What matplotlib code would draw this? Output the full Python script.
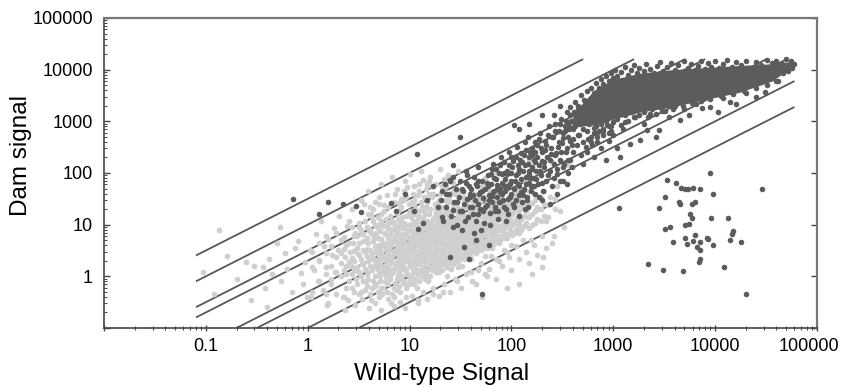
import matplotlib
matplotlib.use("Agg")
import matplotlib.pyplot as plt
import matplotlib.transforms as mtrans
import numpy as np
from matplotlib.ticker import FixedLocator, FixedFormatter, LogLocator, NullFormatter

plt.rcParams['font.family'] = ['Liberation Sans', 'DejaVu Sans']

# guide lines y = k * x, clipped to the drawn range
fold_k = [31.6, 10, 3.16, 2, 0.5, 0.316, 0.1, 0.0316]
line_xmin, line_xmax = 0.08, 60000
line_ymin, line_ymax = 0.1, 16000

# light gray points (low signal probes), scattered part
light_pts = [
    (0.093, 1.2), (0.135, 7.8), (0.12, 0.45), (0.16, 2.5), (0.2, 0.9), (0.25, 1.9), (0.28, 0.35),
    (0.3, 1.6), (0.36, 1.5), (0.38, 0.6), (0.4, 0.25), (0.42, 2.2), (0.45, 1.1), (0.5, 4.5),
    (0.54, 9.0), (0.55, 0.8), (0.6, 2.8), (0.62, 1.4), (0.7, 0.5), (0.75, 3.5), (0.81, 4.9),
    (0.85, 1.14), (0.9, 0.7), (0.95, 1.9), (0.99, 0.4),
    (1.05, 3.2), (1.07, 0.4), (1.15, 1.3), (1.2, 6.5), (1.25, 0.8), (1.3, 2.1), (1.35, 12),
    (1.4, 0.55), (1.45, 3.8), (1.5, 1.5), (1.55, 0.28), (1.6, 5.2), (1.7, 0.9), (1.75, 2.6),
    (1.8, 8.5), (1.85, 1.2), (1.9, 0.45), (2.0, 3.3), (2.05, 15), (2.1, 1.8), (2.2, 0.4),
    (2.25, 5.8), (2.3, 2.4), (2.4, 1.1), (2.45, 9.5), (2.5, 0.35), (2.6, 3.0), (2.65, 1.6),
    (2.7, 20), (2.75, 0.6), (2.8, 4.4), (2.85, 2.0), (2.9, 7), (2.95, 1.3), (3.0, 0.9),
    (3.1, 2.7), (3.2, 11), (3.3, 0.5), (3.4, 1.7), (3.5, 4.8), (3.6, 25), (3.7, 0.8),
    (3.8, 3.4), (3.9, 1.2), (4.0, 7.5), (4.1, 2.2), (4.2, 0.35), (4.3, 14), (4.4, 1.5),
    (4.5, 5.5), (4.6, 0.65), (4.7, 3.0), (4.8, 9), (4.9, 1.9), (5.0, 35), (5.1, 1.0),
    (5.3, 4.0), (5.4, 0.45), (5.5, 2.5), (5.6, 18), (5.8, 6.5), (5.9, 1.4), (6.0, 0.75),
    (6.2, 3.6), (6.3, 11), (6.5, 2.0), (6.6, 0.3), (6.8, 5.0), (6.9, 1.2), (7.0, 28),
    (7.2, 8), (7.3, 2.8), (7.5, 0.55), (7.6, 4.4), (7.8, 1.6), (8.0, 13), (8.1, 0.9),
    (8.3, 3.2), (8.5, 6), (8.6, 2.1), (8.8, 45), (9.0, 1.3), (9.1, 9.5), (9.3, 0.4),
    (9.5, 4.2), (9.6, 2.5), (9.8, 16), (9.9, 0.7), (3.4, 6.5), (4.4, 20), (5.2, 12),
    (6.1, 8.8), (7.0, 0.4), (8.2, 22), (9.4, 3.5), (9.5, 54), (13.7, 72),
    (10.3, 5.2), (10.6, 1.5), (11, 25), (11.3, 3.0), (11.7, 0.6), (12, 9), (12.4, 2.0),
    (12.8, 14), (13.2, 4.5), (13.6, 1.1), (14, 35), (14.4, 6.5), (14.8, 2.6), (15.2, 0.8),
    (15.7, 11), (16.2, 3.8), (16.7, 55), (17.2, 1.7), (17.7, 7.5), (18.2, 20), (18.8, 3.0),
    (19.4, 1.2), (20, 12), (20.6, 5), (21.2, 0.5), (21.8, 30), (22.5, 2.3), (23.2, 8.5),
    (24, 16), (24.8, 4), (25.6, 1.4), (26.4, 45), (27.2, 6), (28, 2.8), (28.9, 22),
    (29.8, 10), (10.8, 40), (12.2, 0.35), (13.9, 18), (15.5, 70), (17, 0.45), (18.5, 13),
    (19.8, 2.2), (21, 8), (22, 75), (23.5, 1.0), (25, 28), (26, 12), (27.5, 3.8),
    (29, 0.8), (11.5, 7), (14.2, 2.1), (16.5, 4.7), (19, 9.5), (24.5, 6.5),
    (31, 4.2), (32, 15), (33, 1.6), (34, 32), (35, 7), (36, 3.0), (37, 60), (38, 11),
    (40, 2.2), (41, 20), (43, 5.5), (44, 40), (46, 9), (47, 1.3), (49, 28), (51, 14),
    (53, 3.5), (55, 80), (57, 7), (59, 18), (61, 45), (63, 2.5), (65, 10), (68, 30),
    (70, 5), (73, 100), (76, 15), (79, 40), (82, 8), (85, 22), (88, 60), (92, 12),
    (96, 35), (99, 4), (45, 0.7), (58, 1.0), (75, 2.0), (90, 3), (52, 0.4), (66, 120),
    (105, 18), (110, 45), (118, 9), (125, 28), (135, 70), (145, 14), (155, 5), (165, 40),
    (180, 22), (195, 90), (205, 2.4), (220, 12), (240, 35), (260, 6), (280, 55), (300, 18),
    (330, 9), (360, 140), (250, 160), (150, 180),
    # upper edge of the cloud
    (3.3, 30), (3.9, 45), (4.6, 28), (5.3, 60), (6.0, 38), (6.7, 85), (7.5, 50), (8.3, 32),
    (9.0, 70), (10, 95), (11, 55), (12, 38), (13, 110), (14.5, 50), (16, 85), (18, 60),
    (20, 120), (22, 48), (24, 90), (27, 65), (30, 110), (4.2, 16), (5.6, 24), (7.8, 26),
    (10.5, 28), (12.5, 60), (15.5, 40), (19, 28), (23, 55), (28, 40),
    # lower edge of the cloud
    (1.6, 0.3), (2.3, 0.22), (2.9, 0.28), (3.4, 0.36), (4.0, 0.24), (4.6, 0.3), (5.3, 0.22),
    (6.1, 0.36), (7.0, 0.27), (8.0, 0.32), (9.1, 0.24), (10.5, 0.42), (12, 0.3), (13.5, 0.5),
    (15, 0.36), (17, 0.6), (19.5, 0.42), (22, 0.7), (25, 0.5), (28, 0.9), (32, 0.6),
    (36, 1.1), (41, 0.8), (47, 1.4), (55, 1.1),
    # right, below the dark points
    (30, 1.5), (35, 2.2), (40, 1.2), (45, 3), (50, 1.8), (55, 2.5), (60, 1.4), (65, 3.5),
    (70, 2.2), (75, 4.5), (80, 1.6), (85, 3.2), (90, 5.5), (95, 2.4), (100, 1.3), (110, 3.8),
    (120, 2.2), (130, 5), (140, 3), (150, 1.8), (165, 4), (180, 2.6), (200, 6), (220, 3.5),
    (250, 4.5), (120, 0.7), (160, 1.1), (90, 0.6), (70, 0.9), (200, 1.5),
]

# light gray points, dense part of the cloud: (wild-type value, [dam values])
light_cloud_cols = [
    (1.1, [0.5, 1.5, 3]), (1.3, [0.8, 2, 4.5]), (1.5, [0.45, 1.1, 2.8, 6]),
    (1.7, [0.7, 1.6, 3.8]), (1.9, [1.2, 2.4, 7]),
    (2.1, [1.0, 2.8, 5]), (2.25, [0.4, 1.3, 3.4]), (2.4, [0.6, 1.6, 4]),
    (2.55, [0.8, 1.9, 4.5, 12]), (2.7, [1.1, 2.3, 9]), (2.85, [0.5, 1.4, 3.1, 6]),
    (3.05, [0.7, 1.5, 3.6, 6]), (3.2, [0.45, 1.2, 2.6, 4.5, 9]), (3.35, [1.0, 2.2, 8]),
    (3.5, [0.8, 1.7, 3.3, 6.5]), (3.65, [0.55, 1.4, 3.0, 12]), (3.8, [0.65, 1.1, 2.5, 5.5, 9]),
    (3.95, [0.9, 2.0, 4.5, 16]), (4.1, [0.45, 1.6, 3.3, 8, 22]), (4.25, [0.6, 1.3, 2.8, 6.5]),
    (4.4, [0.8, 2.3, 4.8, 12]), (4.55, [1.0, 2.0, 3.8, 10]), (4.7, [0.7, 1.7, 3.2, 7]),
    (4.85, [0.5, 1.4, 2.7, 5.5, 14]), (5.0, [0.4, 1.1, 2.2, 4.1, 10, 25]),
    (5.15, [0.8, 1.8, 3.4, 7.5]), (5.3, [0.6, 1.5, 2.8, 5.2, 16]),
    (5.5, [0.6, 1.2, 2.3, 4.5, 9.5]), (5.7, [0.8, 1.6, 3.8, 7]), (5.85, [1.0, 2.0, 3.2, 13]),
    (6.0, [0.5, 1.2, 2.3, 4.4, 10]), (6.2, [0.7, 1.5, 2.6, 5.5, 22]),
    (6.4, [0.9, 1.8, 3.3, 6.5, 15]), (6.6, [1.1, 2.2, 4.0, 8]),
    (6.8, [0.45, 1.3, 2.5, 4.6, 12]), (7.0, [0.6, 1.4, 2.9, 5, 11]),
    (7.2, [0.75, 1.7, 3.2, 6, 9.5, 40]), (7.45, [0.9, 1.9, 3.6, 7, 17]),
    (7.7, [1.0, 2.2, 4.2, 8, 13]), (7.9, [0.65, 1.2, 2.5, 4.8, 9]),
    (8.1, [0.5, 1.4, 2.9, 5.6, 11, 20]), (8.4, [1.0, 1.8, 3.5, 6.5, 14]),
    (8.6, [0.8, 2.4, 4.4, 8.5]), (8.9, [0.75, 1.5, 2.7, 5, 11, 30]),
    (9.2, [0.6, 1.3, 2.4, 4.2, 6.5, 15, 35]), (9.45, [1.1, 2.0, 3.0, 7.5]),
    (9.8, [0.9, 1.9, 3.5, 5.5, 10, 25]), (10.1, [0.8, 1.6, 2.9, 4.5, 8, 18]),
    (10.4, [1.0, 2.0, 3.3, 5.8, 9.5, 14]), (10.7, [1.2, 2.3, 3.8, 6.5, 12]),
    (11.0, [0.7, 1.5, 2.7, 4.6, 7.5, 16, 30]), (11.4, [0.9, 1.8, 3.3, 5.5, 10, 20]),
    (11.7, [1.1, 2.2, 4.0, 6.5, 12]), (12.1, [1.3, 2.6, 4.2, 7, 15]),
    (12.5, [0.8, 1.7, 3.0, 5, 8, 18, 45]), (12.9, [1.0, 2.0, 3.5, 6, 9.5, 28]),
    (13.3, [1.2, 2.4, 4.2, 7, 11, 22]), (13.7, [1.5, 2.8, 5, 8.5, 13]),
    (14.1, [0.9, 1.9, 3.2, 5.5, 9, 16]), (14.6, [1.1, 2.2, 3.6, 6.5, 11, 22]),
    (15.0, [1.3, 2.6, 4.5, 7, 12, 28, 60]), (15.5, [1.6, 3.0, 5, 8, 16]),
    (16.0, [1.0, 2.0, 3.5, 5.8, 9.5, 20]), (16.5, [1.3, 2.4, 4.2, 6.5, 10, 35]),
    (17.0, [1.5, 2.8, 4.8, 8, 13, 40]), (17.6, [1.9, 3.2, 5.5, 9, 14, 25]),
    (18.1, [1.2, 2.3, 3.8, 6.5, 10, 17]), (18.7, [1.5, 2.6, 4.5, 7.5, 12]),
    (19.3, [1.6, 3.0, 5.2, 8.5, 15, 30]), (20, [2.0, 3.4, 6, 9, 18, 40]),
    (20.6, [1.3, 2.5, 4.2, 6.8, 11, 22, 55]), (21.3, [1.7, 2.9, 4.8, 7.5, 13]),
    (22.0, [1.8, 3.2, 5.5, 9, 16]), (22.7, [2.2, 3.8, 6, 10, 20]),
    (23.4, [1.5, 2.6, 4.4, 7, 12, 28]), (24.2, [1.8, 3.0, 5, 8.5, 14, 35]),
    (25.0, [2.0, 3.6, 6, 10, 16, 40]), (25.8, [2.5, 4.2, 7, 11, 18]),
    (26.6, [1.7, 3.0, 5, 8, 13, 22]), (27.5, [2.0, 3.4, 5.5, 9, 25]),
    (28.4, [2.3, 4, 6.5, 11, 18]), (29.3, [2.8, 4.8, 7.5, 13, 20]),
    (30.2, [1.9, 3.3, 5.5, 9, 15, 30]), (31.2, [2.3, 3.8, 6, 10, 16, 45]),
    (32.2, [2.6, 4.5, 7, 12, 20]), (33.3, [3.2, 5.2, 8.5, 14]),
    (34.4, [2.2, 3.6, 6, 10, 16, 35]), (35.5, [2.6, 4.4, 7, 12, 22]),
    (36.7, [3.0, 5, 8, 13, 24]), (37.9, [3.5, 5.8, 9, 15, 30]), (39.1, [2.5, 4.2, 7, 11, 18]),
    (40.4, [2.9, 4.8, 8, 13]), (41.7, [3.4, 5.6, 9, 15, 28]), (43, [3.8, 6.5, 10, 18, 40]),
    (44.5, [2.8, 4.6, 7.5, 12, 20]), (46, [3.2, 5.4, 8.5, 14]), (47.5, [3.8, 6.2, 10, 16, 32]),
    (49, [4.2, 7, 11, 20]), (50.5, [3.2, 5.2, 8.5, 14]), (52, [3.6, 6, 9.5, 16, 55]),
    (54, [4.2, 7, 11, 19, 35]), (56, [4.8, 8, 13, 24]), (58, [3.6, 6, 9.5, 15, 26]),
    (60, [4.0, 6.5, 10.5, 18]), (62, [4.8, 8, 13, 22]), (64, [5.5, 9, 15, 30]),
    (66, [4.2, 7, 11, 18]), (68, [4.5, 7.5, 12, 22]), (70.5, [5.5, 9, 15, 28]),
    (73, [6, 10, 17, 40]), (75.5, [4.8, 8, 13, 22]), (78, [5, 8.5, 14]), (81, [6.2, 10, 17, 32]),
    (84, [7, 12, 20, 50]), (87, [5.5, 9, 15, 25]), (90, [6, 10, 16, 28]),
    (94, [7, 11.5, 19, 35]), (97, [8, 13, 24]), (101, [6.2, 10, 16, 28]),
    (105, [7, 11, 19, 35]), (110, [8, 13, 22, 40]), (115, [9, 15, 26]), (120, [7, 11, 18, 32]),
    (125, [8, 13, 22, 45]), (132, [9.5, 15, 26]), (140, [11, 18, 30]), (150, [8.5, 14, 24, 45]),
    (160, [10, 16, 26]), (170, [11, 18, 30]), (180, [13, 20]), (195, [12, 20, 35]),
    (210, [15, 25, 45]), (230, [14, 24]), (270, [20, 32]),
]

# dark gray points (bound probes)
dark_pts = [
    (0.71, 31.5), (1.6, 27.5), (2.2, 25.6), (1.3, 16.4), (3.0, 22.7), (3.3, 17.6),
    (11.9, 231), (27, 142), (31.6, 500), (105, 843), (120, 700), (150, 900), (200, 1300),
    (6.5, 26), (7.3, 18), (9, 40), (11, 18), (13.7, 11), (12, 8.4), (15, 30), (17, 55),
    (19, 22), (21, 14), (23, 40), (25, 70), (27, 9), (29, 28), (31, 18), (33, 50),
    (35, 12), (37, 90), (39, 35), (41, 22), (43, 7), (45, 60), (47, 16), (49, 42),
    (25, 2.4), (38, 2.2), (34, 3.7), (52, 0.46), (45, 5), (60, 4),
    # diagonal dotted region
    (20.5, 30), (21.5, 12), (22.5, 60), (23, 22), (24.5, 40), (25.5, 15), (26.5, 85),
    (27.5, 28), (28.5, 50), (29.5, 10), (30.5, 35), (31.5, 70), (32.5, 18), (33.5, 45),
    (34.5, 25), (35.5, 110), (36.5, 32), (37.5, 14), (38.5, 55), (39.5, 22), (21, 45),
    (27, 19), (33, 8), (36, 65), (39, 40),
    (40.5, 48), (41.5, 16), (42.5, 85), (43.5, 30), (44.5, 12), (45.5, 55), (46.5, 25),
    (47.5, 130), (48.5, 40), (49.5, 20), (51, 70), (52.5, 33), (54, 11), (55.5, 48),
    (57, 24), (58.5, 90), (60, 38), (61.5, 17), (63, 60), (64.5, 28), (66, 150), (67.5, 45),
    (69, 22), (70.5, 75), (72, 35), (73.5, 13), (75, 100), (76.5, 52), (78, 27), (79.5, 200),
    (42, 38), (47, 70), (53, 18), (59, 55), (65, 36), (71, 120), (77, 42), (50, 8),
    (62, 10), (74, 18),
    (81, 65), (83, 30), (85, 160), (87, 45), (89, 20), (91, 95), (93, 55), (95, 250),
    (97, 35), (99, 70), (102, 130), (104, 25), (107, 48), (110, 90), (113, 320), (116, 60),
    (119, 38), (122, 180), (125, 75), (128, 28), (131, 110), (134, 50), (137, 400), (140, 85),
    (143, 35), (146, 150), (149, 65), (152, 260), (155, 45), (158, 120), (84, 100), (92, 16),
    (98, 200), (106, 22), (115, 140), (124, 42), (133, 220), (142, 30), (150, 95), (157, 55),
    (88, 12), (118, 15), (136, 20), (145, 500), (160, 300),
    (162, 80), (166, 180), (170, 40), (174, 110), (178, 350), (182, 60), (186, 140),
    (190, 600), (195, 90), (200, 250), (205, 45), (210, 160), (215, 420), (220, 70),
    (226, 200), (232, 800), (238, 110), (244, 300), (250, 55), (256, 500), (262, 150),
    (268, 900), (275, 240), (282, 95), (290, 650), (298, 180), (306, 1100), (315, 380),
    (324, 130), (333, 800), (343, 260), (353, 1500), (363, 500), (373, 180), (384, 1000),
    (395, 350), (170, 250), (200, 30), (240, 25), (280, 40), (320, 70), (360, 100),
    (260, 1300), (300, 2000), (350, 60),
    (52, 45), (55, 22), (57, 65), (60, 30), (63, 95), (66, 42), (69, 18), (72, 58), (75, 28),
    (78, 140), (81, 40), (84, 22), (87, 75), (90, 110), (93, 32), (96, 60), (100, 40),
    (104, 170), (108, 70), (112, 30), (116, 100), (120, 55), (125, 240), (130, 38),
    (135, 140), (140, 60), (145, 22), (150, 200), (155, 80), (160, 130), (165, 55),
    (170, 400), (175, 75), (180, 200), (185, 35), (190, 110), (195, 300), (200, 65),
    (210, 130), (220, 350), (230, 90), (240, 180), (250, 500), (260, 80), (270, 220),
    (280, 120), (290, 400), (300, 70), (310, 250), (320, 600), (330, 150), (340, 1000),
    (350, 300), (360, 180), (370, 700), (380, 420), (390, 130), (400, 250), (420, 800),
    (440, 350), (460, 550), (480, 220), (500, 700), (520, 1200), (540, 320), (560, 450),
    (580, 900), (600, 1500), (620, 350), (640, 600), (660, 1100), (680, 800), (700, 400),
    (730, 650), (760, 1800), (790, 550), (820, 1200), (860, 850), (900, 600), (950, 1500),
    (64, 120), (68, 80), (73, 48), (80, 95), (86, 55), (94, 140), (100, 100), (110, 200),
    (118, 120), (127, 160), (138, 280), (148, 110), (160, 220), (172, 160), (185, 450),
    (198, 170), (212, 280), (228, 550), (245, 230), (265, 650), (285, 320), (300, 900),
    (318, 480), (336, 650), (356, 850), (376, 1300), (398, 700), (410, 1500), (430, 1100),
    (455, 2000), (470, 900), (500, 1600), (530, 1900), (560, 2300), (590, 2700),
    # upper fringe of the saturated band
    (380, 1900), (420, 2400), (450, 1700), (480, 3200), (520, 2600), (550, 3800), (600, 4500),
    (640, 3600), (680, 5500), (720, 4400), (760, 6500), (800, 5200), (850, 7500), (900, 6000),
    (950, 8800), (1000, 6800), (1050, 10000), (1100, 7500), (1200, 9000), (1300, 11500),
    (1400, 8000), (1500, 10000), (1600, 12500), (1700, 8500), (1800, 11000), (2000, 9500),
    (2100, 13000), (2300, 10500), (2500, 8800), (2700, 12000), (2900, 14000), (3100, 9500),
    (3400, 11500), (3700, 13500), (4000, 10000), (4300, 12500), (4700, 9000), (5000, 14500),
    (5400, 11000), (5800, 13000), (6300, 9800), (6800, 12000), (7300, 15000), (7900, 10500),
    (8500, 13500), (9200, 11500), (10000, 14500), (11000, 10800), (12000, 13000),
    (13000, 15500), (14500, 11500), (16000, 14000), (18000, 12500), (20000, 15000),
    (22000, 11000), (25000, 14000), (28000, 12500), (32000, 15500), (36000, 13500),
    (40000, 15000), (45000, 13000), (50000, 16000), (55000, 14500), (60000, 13000),
    # lower fringe of the band
    (400, 450), (450, 550), (500, 400), (550, 650), (600, 500), (650, 750), (700, 600),
    (750, 900), (800, 700), (850, 1000), (900, 800), (950, 650), (1000, 950), (1100, 1100),
    (1200, 850), (1300, 1300), (1400, 1000), (1500, 1500), (1650, 1200), (1800, 1350),
    (2000, 1500), (2200, 1200), (2400, 1750), (2600, 1400), (2900, 1900), (3200, 1600),
    (3500, 2200), (3900, 1700), (4300, 2400), (4800, 2000), (5300, 2700), (5900, 2300),
    (6500, 3000), (7200, 2500), (8000, 3300), (9000, 2700), (10000, 3600), (11500, 3100),
    (13000, 4000), (15000, 3400), (17000, 4500), (19000, 3800), (22000, 5000), (25000, 4400),
    (28000, 5700), (32000, 5000), (36000, 7000), (41000, 6000), (46000, 8500), (52000, 9500),
    (57000, 11000),
    # sparse points below the band
    (500, 150), (550, 250), (600, 400), (650, 200), (700, 500), (750, 300), (800, 650),
    (850, 180), (900, 420), (950, 800), (1000, 550), (1100, 300), (1170, 205), (1250, 700),
    (1300, 950), (1450, 370), (1600, 1200), (1850, 430), (2000, 900), (2130, 680),
    (2300, 1400), (2600, 505), (2800, 680), (3000, 1600), (3500, 1200), (4000, 2000),
    (4500, 1060), (5000, 1700), (5600, 1330), (6500, 2200), (7500, 1800), (9000, 1900),
    (10600, 1530), (12000, 2800), (14000, 2400), (16000, 2200), (20000, 3500), (25000, 3000),
    (31000, 3700), (40000, 6000),
    # isolated group lower right
    (8900, 98), (28700, 50), (3400, 72), (4100, 64), (4600, 52), (5100, 50), (5400, 48),
    (6100, 52), (7100, 50), (9500, 40), (3200, 34), (4400, 27.5), (4500, 25.6), (5900, 25.6),
    (6400, 27), (1150, 21.4), (2800, 21.4), (5700, 16.4), (5900, 13.7), (9100, 13.7),
    (13500, 13.7), (5100, 9.7), (5500, 10.5), (3200, 8.4), (3600, 9.0), (15100, 7.5),
    (14600, 6.7), (14000, 5.1), (5100, 5.6), (6400, 6.2), (8300, 5.6), (8600, 5.3),
    (3900, 4.6), (5300, 4.3), (6100, 4.8), (7100, 4.6), (9500, 4.0), (6700, 3.7),
    (7100, 3.3), (18000, 4.6), (7100, 2.2), (6900, 1.9), (2200, 1.7), (3100, 1.35),
    (4800, 1.27), (12300, 1.5), (19900, 0.45),
]

# outline of the saturated dark band
band_x = [380, 450, 650, 1000, 1800, 3800, 8300, 17000, 36000, 58000]
band_hi = [1000, 1800, 4000, 6500, 8500, 10000, 11000, 12000, 13000, 14500]
band_lo = [900, 800, 850, 1100, 1500, 1900, 2700, 3600, 6000, 11500]

x_tick_vals = [0.01, 0.1, 1, 10, 100, 1000, 10000, 100000]
x_tick_text = ['', '0.1', '1', '10', '100', '1000', '10000', '100000']
y_tick_vals = [0.1, 1, 10, 100, 1000, 10000, 100000]
y_tick_text = ['', '1', '10', '100', '1000', '10000', '100000']

light_col = '#cfcfcf'
dark_col = '#5c5c5c'
line_col = '#575757'

fig = plt.figure(figsize=(8.44, 3.87), dpi=100)
ax = fig.add_axes([0.1232, 0.1525, 0.8448, 0.801])
ax.set_xscale('log')
ax.set_yscale('log')

for k in fold_k:
    x0 = max(line_xmin, line_ymin / k)
    x1 = min(line_xmax, line_ymax / k)
    ax.plot([x0, x1], [k * x0, k * x1], color=line_col, lw=1.3, zorder=1,
            solid_capstyle='butt')

lx = [p[0] for p in light_pts] + [c[0] for c in light_cloud_cols for _ in c[1]]
ly = [p[1] for p in light_pts] + [v for c in light_cloud_cols for v in c[1]]
ax.scatter(lx, ly, s=17, c=light_col, linewidths=0, zorder=3)

ax.fill_between(band_x, band_lo, band_hi, color=dark_col, lw=0, zorder=4)
dx, dy = zip(*dark_pts)
ax.scatter(dx, dy, s=16, c=dark_col, linewidths=0, zorder=5)

ax.set_xlim(0.01, 100000)
ax.set_ylim(0.1, 100000)

ax.xaxis.set_major_locator(FixedLocator(x_tick_vals))
ax.xaxis.set_major_formatter(FixedFormatter(x_tick_text))
ax.xaxis.set_minor_locator(LogLocator(base=10, subs=np.arange(2, 10), numticks=20))
ax.xaxis.set_minor_formatter(NullFormatter())
ax.yaxis.set_major_locator(FixedLocator(y_tick_vals))
ax.yaxis.set_major_formatter(FixedFormatter(y_tick_text))
ax.yaxis.set_minor_locator(LogLocator(base=10, subs=np.arange(2, 10), numticks=20))
ax.yaxis.set_minor_formatter(NullFormatter())

ax.tick_params(axis='x', which='major', direction='inout', length=5, width=1, color='#444',
               labelsize=13, pad=5, top=False)
ax.tick_params(axis='x', which='minor', direction='inout', length=3.5, width=0.8, color='#444',
               top=False)
ax.tick_params(axis='y', which='major', direction='in', length=4, width=1, color='#444',
               labelsize=13, pad=8, right=True)
ax.tick_params(axis='y', which='minor', direction='in', length=2.5, width=0.7, color='#444',
               right=False)

# the last x label sits slightly left of its tick, as in the original
fig.canvas.draw()
last_lbl = ax.get_xticklabels()[-1]
last_lbl.set_transform(last_lbl.get_transform() +
                       mtrans.ScaledTranslation(-8 / 100, 0, fig.dpi_scale_trans))

for side in ['left', 'bottom']:
    ax.spines[side].set_color('#444')
    ax.spines[side].set_linewidth(1.2)
for side in ['top', 'right']:
    ax.spines[side].set_color('#777')
    ax.spines[side].set_linewidth(1.6)

fig.text(442 / 844, 1 - 380 / 387, 'Wild-type Signal', fontsize=17.5, ha='center', va='baseline')
fig.text(21 / 844, 1 - 155 / 387, 'Dam signal', fontsize=17.5, rotation=90, ha='center', va='center')

fig.savefig('out.png', dpi=100)
